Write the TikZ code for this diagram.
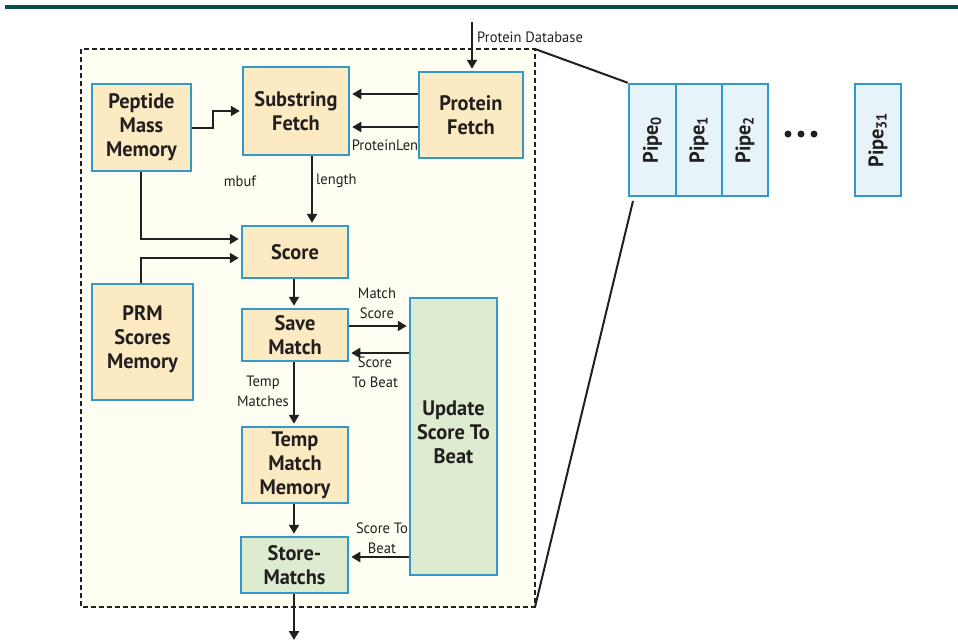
\documentclass[tikz,border=0pt]{standalone}
\usepackage{fontspec}
\setmainfont[FakeStretch=0.97]{PT Sans}
\usetikzlibrary{arrows.meta}

\definecolor{boxblue}{HTML}{3399CC}
\definecolor{sand}{HTML}{FCEBC2}
\definecolor{sage}{HTML}{DDEBCF}
\definecolor{ice}{HTML}{E6F4FA}
\definecolor{cream}{HTML}{FFFEF2}
\definecolor{topline}{HTML}{0A4F47}
\definecolor{ink}{HTML}{231F20}

\tikzset{
  blk/.style={draw=boxblue, line width=2.5pt, fill=sand, inner sep=0pt,
    align=center, text=ink, font=\bfseries\fontsize{21}{24}\selectfont},
  greenblk/.style={blk, fill=sage},
  blktext/.style={inner sep=0pt, align=center, text=ink,
    font=\bfseries\fontsize{21}{24}\selectfont},
  pipebox/.style={draw=boxblue, line width=2.5pt, fill=ice, inner sep=0pt,
    minimum width=46pt, minimum height=112pt},
  pipetext/.style={rotate=90, text=ink, font=\bfseries\fontsize{21}{24}\selectfont},
  arr/.style={draw=ink, line width=2.8pt, shorten >=2pt,
    -{Triangle[length=9pt,width=10pt]}},
  lbl/.style={text=ink, align=center, inner sep=0pt,
    font=\fontsize{15}{20}\selectfont},
  zoomline/.style={draw=ink, line width=2pt},
}

\begin{document}
\begin{tikzpicture}[x=1pt,y=-1pt]
\useasboundingbox (0,0) rectangle (958,641);

% header rule
\draw[topline, line width=3.5pt] (5,7) -- (958,7);

% dashed outline of one pipe
\draw[ink, line width=2.5pt, dash pattern=on 5pt off 3pt, fill=cream]
  (81,49) rectangle (535,607);

% blocks
\node[blk, minimum width=99pt, minimum height=87pt] (pep) at (141.5,127.5) {Peptide\\Mass\\Memory};
\node[blk, minimum width=106pt, minimum height=88pt] (sub) at (296,111) {Substring\\Fetch};
\node[blk, minimum width=104pt, minimum height=86pt] (pf) at (471,115) {Protein\\Fetch};
\node[blk, minimum width=106pt, minimum height=52pt] (score) at (295,252) {Score};
\node[blk, minimum width=101pt, minimum height=116pt] (prm) at (142.5,342) {};
\node[blktext] (prmtext) at (142.5,339) {PRM\\Scores\\Memory};
\node[blk, minimum width=106pt, minimum height=52pt] (save) at (295,335) {Save\\Match};
\node[greenblk, minimum width=87pt, minimum height=277pt] (upd) at (453.5,436.5) {};
\node[blktext] (updtext) at (453.5,432.5) {Update\\Score To\\Beat};
\node[blk, minimum width=106pt, minimum height=76pt] (tmm) at (295,465) {Temp\\Match\\Memory};
\node[greenblk, minimum width=107pt, minimum height=56pt] (store) at (294.5,565) {Store-\\Matchs};

% free ends
\coordinate (dbin) at (472,22);
\coordinate (out) at (294,640);

% connectors
\draw[arr] (dbin) -- (pf.north -| dbin);
\draw[arr] (pf.west |- 0,94) -- (sub.east |- 0,94);
\draw[arr] (pf.west |- 0,127) -- (sub.east |- 0,127);
\draw[arr] (pep.east |- 0,128) -| (213,111) -- (sub.west |- 0,111);
\draw[arr] (pep.south -| 141,0) |- (score.west |- 0,239);
\draw[arr] (prm.north -| 141,0) |- (score.west |- 0,258);
\draw[arr] (sub.south -| 312,0) -- (score.north -| 312,0);
\draw[arr] (score.south -| 294,0) -- (save.north -| 294,0);
\draw[arr] (save.east |- 0,326) -- (upd.west |- 0,326);
\draw[arr] (upd.west |- 0,353) -- (save.east |- 0,353);
\draw[arr] (save.south -| 294,0) -- (tmm.north -| 294,0);
\draw[arr] (tmm.south -| 294,0) -- (store.north -| 294,0);
\draw[arr] (upd.west |- 0,557) -- (store.east |- 0,557);
\draw[arr, shorten >=0pt] (store.south -| 294,0) -- (out);

% labels
\node[lbl, anchor=west] (dblbl) at (477,37) {Protein Database};
\node[lbl] (lenlbl) at (385,145) {ProteinLen};
\node[lbl] (mbuf) at (240,181) {mbuf};
\node[lbl, anchor=west] (length) at (316,181) {length};
\node[lbl] (ms) at (377,303) {Match\\Score};
\node[lbl] (stb) at (375,372) {Score\\To Beat};
\node[lbl] (tm) at (263,391) {Temp\\Matches};
\node[lbl] (stb2) at (382,538) {Score To\\Beat};

% array of pipes
\node[pipebox, minimum width=47pt] (p0) at (652.5,140) {};
\node[pipebox] (p1) at (699,140) {};
\node[pipebox] (p2) at (745,140) {};
\node[pipebox] (p31) at (878,140) {};
\node[pipetext] at (p0) {Pipe\textsubscript{0}};
\node[pipetext] at (p1) {Pipe\textsubscript{1}};
\node[pipetext] at (p2) {Pipe\textsubscript{2}};
\node[pipetext] at (p31) {Pipe\textsubscript{31}};
\foreach \dx in {788,801,814} \fill[ink] (\dx,134) circle (3.5pt);

% zoom lines
\coordinate (lowend) at (633,201);
\draw[zoomline] (535,49) -- (p0.north west);
\draw[zoomline] (535,607) -- (lowend);
\end{tikzpicture}
\end{document}
